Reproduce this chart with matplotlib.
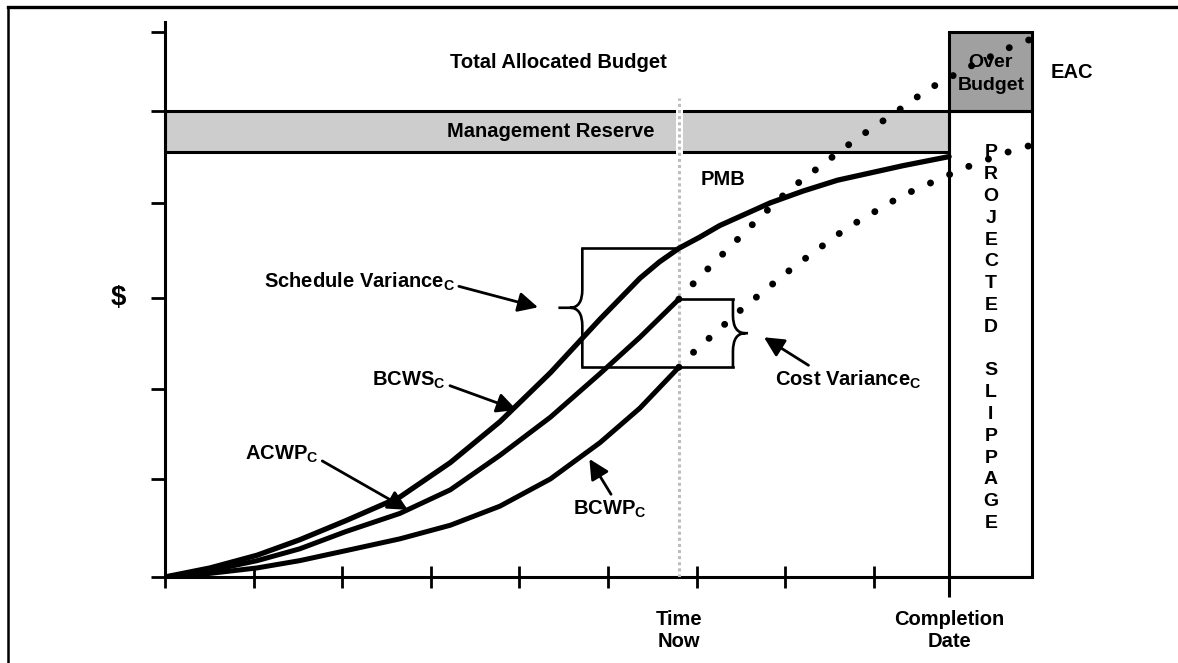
import numpy as np
import matplotlib.pyplot as plt
from matplotlib.patches import Rectangle, PathPatch
from matplotlib.path import Path
from matplotlib.lines import Line2D

plt.rcParams['font.family'] = ['Liberation Sans', 'DejaVu Sans']
plt.rcParams['font.weight'] = 'bold'
plt.rcParams['mathtext.fontset'] = 'custom'
plt.rcParams['mathtext.rm'] = 'Liberation Sans:bold'
plt.rcParams['mathtext.it'] = 'Liberation Sans:bold'
plt.rcParams['mathtext.bf'] = 'Liberation Sans:bold'

# time in reporting periods, $ in tick units
bcws_t = [0, 0.51, 1.04, 1.52, 2.04, 2.65, 3.22, 3.78, 4.35, 4.91, 5.36, 5.58, 5.8,
          6.03, 6.26, 6.83, 7.2, 7.59, 8.33, 8.85]
bcws_v = [0, 0.10, 0.24, 0.41, 0.62, 0.88, 1.26, 1.71, 2.25, 2.84, 3.29, 3.47, 3.62,
          3.74, 3.87, 4.12, 4.25, 4.37, 4.53, 4.63]

acwp_t = [0, 0.51, 1.04, 1.52, 2.04, 2.65, 3.22, 3.78, 4.35, 4.91, 5.36, 5.8]
acwp_v = [0, 0.07, 0.18, 0.31, 0.50, 0.70, 0.96, 1.34, 1.76, 2.24, 2.64, 3.06]

bcwp_t = [0, 0.51, 1.04, 1.52, 2.04, 2.65, 3.22, 3.78, 4.35, 4.91, 5.36, 5.8]
bcwp_v = [0, 0.04, 0.10, 0.18, 0.29, 0.42, 0.57, 0.78, 1.08, 1.48, 1.86, 2.31]

# projections past time now (dotted)
eac_t = [5.8, 6.0, 6.34, 6.68, 7.04, 7.43, 7.81, 8.22, 8.61, 9.06, 9.53, 9.79]
eac_v = [3.06, 3.27, 3.60, 3.93, 4.26, 4.55, 4.83, 5.10, 5.37, 5.61, 5.83, 5.93]
ev_proj_t = [5.8, 5.97, 6.52, 7.09, 7.69, 8.32, 9.01, 9.48, 9.79]
ev_proj_v = [2.31, 2.48, 2.96, 3.41, 3.84, 4.20, 4.50, 4.67, 4.76]

time_now = 5.8
completion = 8.85
slip_end = 9.79
mr_bottom = 4.68
mr_top = 5.13
total_budget = 6.0
y_ticks = [0, 1.08, 2.07, 3.07, 4.12, 5.13, 6.0]
x_ticks = [0, 1, 2, 3, 4, 5, 6, 7, 8]

fig = plt.figure(figsize=(11.78, 6.63), dpi=100)
ax = fig.add_axes([165 / 1178, 86 / 663, 881.6 / 1178, 554.8 / 663])
ax.set_xlim(0, 9.95)
ax.set_ylim(0, 6.11)

for s in ['top', 'right']:
    ax.spines[s].set_visible(False)
ax.spines['left'].set_linewidth(2.2)
ax.spines['bottom'].set_linewidth(2.2)
ax.spines['bottom'].set_bounds(0, slip_end)
ax.set_xticks(x_ticks)
ax.set_yticks(y_ticks)
ax.set_xticklabels([])
ax.set_yticklabels([])
ax.tick_params(axis='x', direction='inout', length=16, width=2)
ax.tick_params(axis='y', direction='out', length=10, width=2)

# management reserve band, over budget and slippage boxes
ax.add_patch(Rectangle((0, mr_bottom), completion, mr_top - mr_bottom,
                       facecolor='#cdcdcd', edgecolor='k', lw=2.2, zorder=2))
ax.add_patch(Rectangle((completion, mr_top), slip_end - completion, total_budget - mr_top,
                       facecolor='#a0a0a0', edgecolor='k', lw=2.2, zorder=2))
ax.add_patch(Rectangle((completion, 0), slip_end - completion, mr_top,
                       facecolor='none', edgecolor='k', lw=2.2, zorder=2))
ax.vlines(completion, -0.22, 0, color='k', lw=2.2, clip_on=False)

# time now line
ax.vlines(time_now, mr_bottom - 0.03, mr_top + 0.03, color='white', lw=5, zorder=3)
ax.vlines(time_now, 0, 5.28, color='#bdbdbd', lw=2.2, linestyle=(0, (1, 1)), zorder=4)

# curves
ax.plot(bcws_t, bcws_v, color='k', lw=3.8, solid_capstyle='round', solid_joinstyle='round', zorder=5)
ax.plot(acwp_t, acwp_v, color='k', lw=3.6, solid_capstyle='round', solid_joinstyle='round', zorder=5)
ax.plot(bcwp_t, bcwp_v, color='k', lw=3.6, solid_capstyle='round', solid_joinstyle='round', zorder=5)
dots = dict(color='k', lw=5, linestyle=(0, (0.01, 3.0)), dash_capstyle='round', zorder=5)
ax.plot(eac_t, eac_v, **dots)
ax.plot(ev_proj_t, ev_proj_v, **dots)

bcws_now = np.interp(time_now, bcws_t, bcws_v)
acwp_now = np.interp(time_now, acwp_t, acwp_v)
bcwp_now = np.interp(time_now, bcwp_t, bcwp_v)


def brace(x, y0, y1, side, stub):
    mid = (y0 + y1) / 2
    verts = [(x, y1), (x, mid + 0.2), (x, mid), (x + side * 0.14, mid),
             (x + side * stub, mid),
             (x + side * 0.14, mid), (x, mid), (x, mid - 0.2), (x, y0)]
    codes = [Path.MOVETO, Path.LINETO, Path.CURVE3, Path.CURVE3, Path.LINETO,
             Path.MOVETO, Path.CURVE3, Path.CURVE3, Path.LINETO]
    ax.add_patch(PathPatch(Path(verts, codes), facecolor='none', edgecolor='k', lw=1.9, zorder=4))


sv_x = 4.71
cv_x = 6.41
brace(sv_x, bcwp_now, bcws_now, -1, 0.27)
ax.plot([sv_x, time_now], [bcws_now, bcws_now], color='k', lw=1.9, zorder=4)
ax.plot([sv_x, cv_x], [bcwp_now, bcwp_now], color='k', lw=1.9, zorder=4)
brace(cv_x, bcwp_now, acwp_now, 1, 0.17)
ax.plot([time_now + 0.04, cv_x], [acwp_now, acwp_now], color='k', lw=1.9, zorder=4)

# labels
fs = 14.5
arrow = dict(arrowstyle='-|>', color='k', lw=2, mutation_scale=30, shrinkA=1, shrinkB=0)
ax.annotate('Schedule Variance$_\\mathrm{C}$', xy=(4.21, 2.97), xytext=(3.27, 3.25),
            ha='right', va='center', fontsize=fs,
            arrowprops=dict(arrow, relpos=(1, 0.35)))
ax.annotate('BCWS$_\\mathrm{C}$', xy=(3.97, 1.84), xytext=(3.17, 2.17),
            ha='right', va='center', fontsize=fs,
            arrowprops=dict(arrow, relpos=(1, 0.3)))
ax.annotate('ACWP$_\\mathrm{C}$', xy=(2.74, 0.74), xytext=(1.73, 1.35),
            ha='right', va='center', fontsize=fs,
            arrowprops=dict(arrow, relpos=(1, 0.3)))
ax.annotate('BCWP$_\\mathrm{C}$', xy=(4.79, 1.30), xytext=(5.02, 0.75),
            ha='center', va='center', fontsize=fs,
            arrowprops=dict(arrow, relpos=(0.55, 1)))
ax.annotate('Cost Variance$_\\mathrm{C}$', xy=(6.76, 2.64), xytext=(6.88, 2.17),
            ha='left', va='center', fontsize=fs,
            arrowprops=dict(arrow, relpos=(0.27, 1)))

ax.text(4.44, 5.67, 'Total Allocated Budget', ha='center', va='center', fontsize=fs)
ax.text(4.35, (mr_bottom + mr_top) / 2, 'Management Reserve', ha='center', va='center',
        fontsize=fs, zorder=6)
ax.text(6.30, 4.38, 'PMB', ha='center', va='center', fontsize=fs)
ax.text((completion + slip_end) / 2, 5.54, 'Over\nBudget', ha='center', va='center',
        fontsize=14, linespacing=1.45)
ax.text(10.24, 5.56, 'EAC', ha='center', va='center', fontsize=fs)
ax.text(-0.53, 3.07, '$', ha='center', va='center', fontsize=20)
ax.text(time_now, -0.59, 'Time\nNow', ha='center', va='center', fontsize=fs, linespacing=1.2)
ax.text(completion, -0.59, 'Completion\nDate', ha='center', va='center', fontsize=fs,
        linespacing=1.2)

# vertical "PROJECTED SLIPPAGE" lettering, one letter per row
slip_letters = 'PROJECTED SLIPPAGE'
for i, ch in enumerate(slip_letters):
    ax.text(9.32, 4.67 - i * 0.24, ch, ha='center', va='center', fontsize=14)

# outer frame (top and left only)
fig.add_artist(Line2D([8 / 1178, 1], [1 - 7 / 663] * 2, transform=fig.transFigure, color='k', lw=2.4))
fig.add_artist(Line2D([8 / 1178] * 2, [0, 1 - 7 / 663], transform=fig.transFigure, color='k', lw=1.8))

fig.savefig('out.png', dpi=100)
